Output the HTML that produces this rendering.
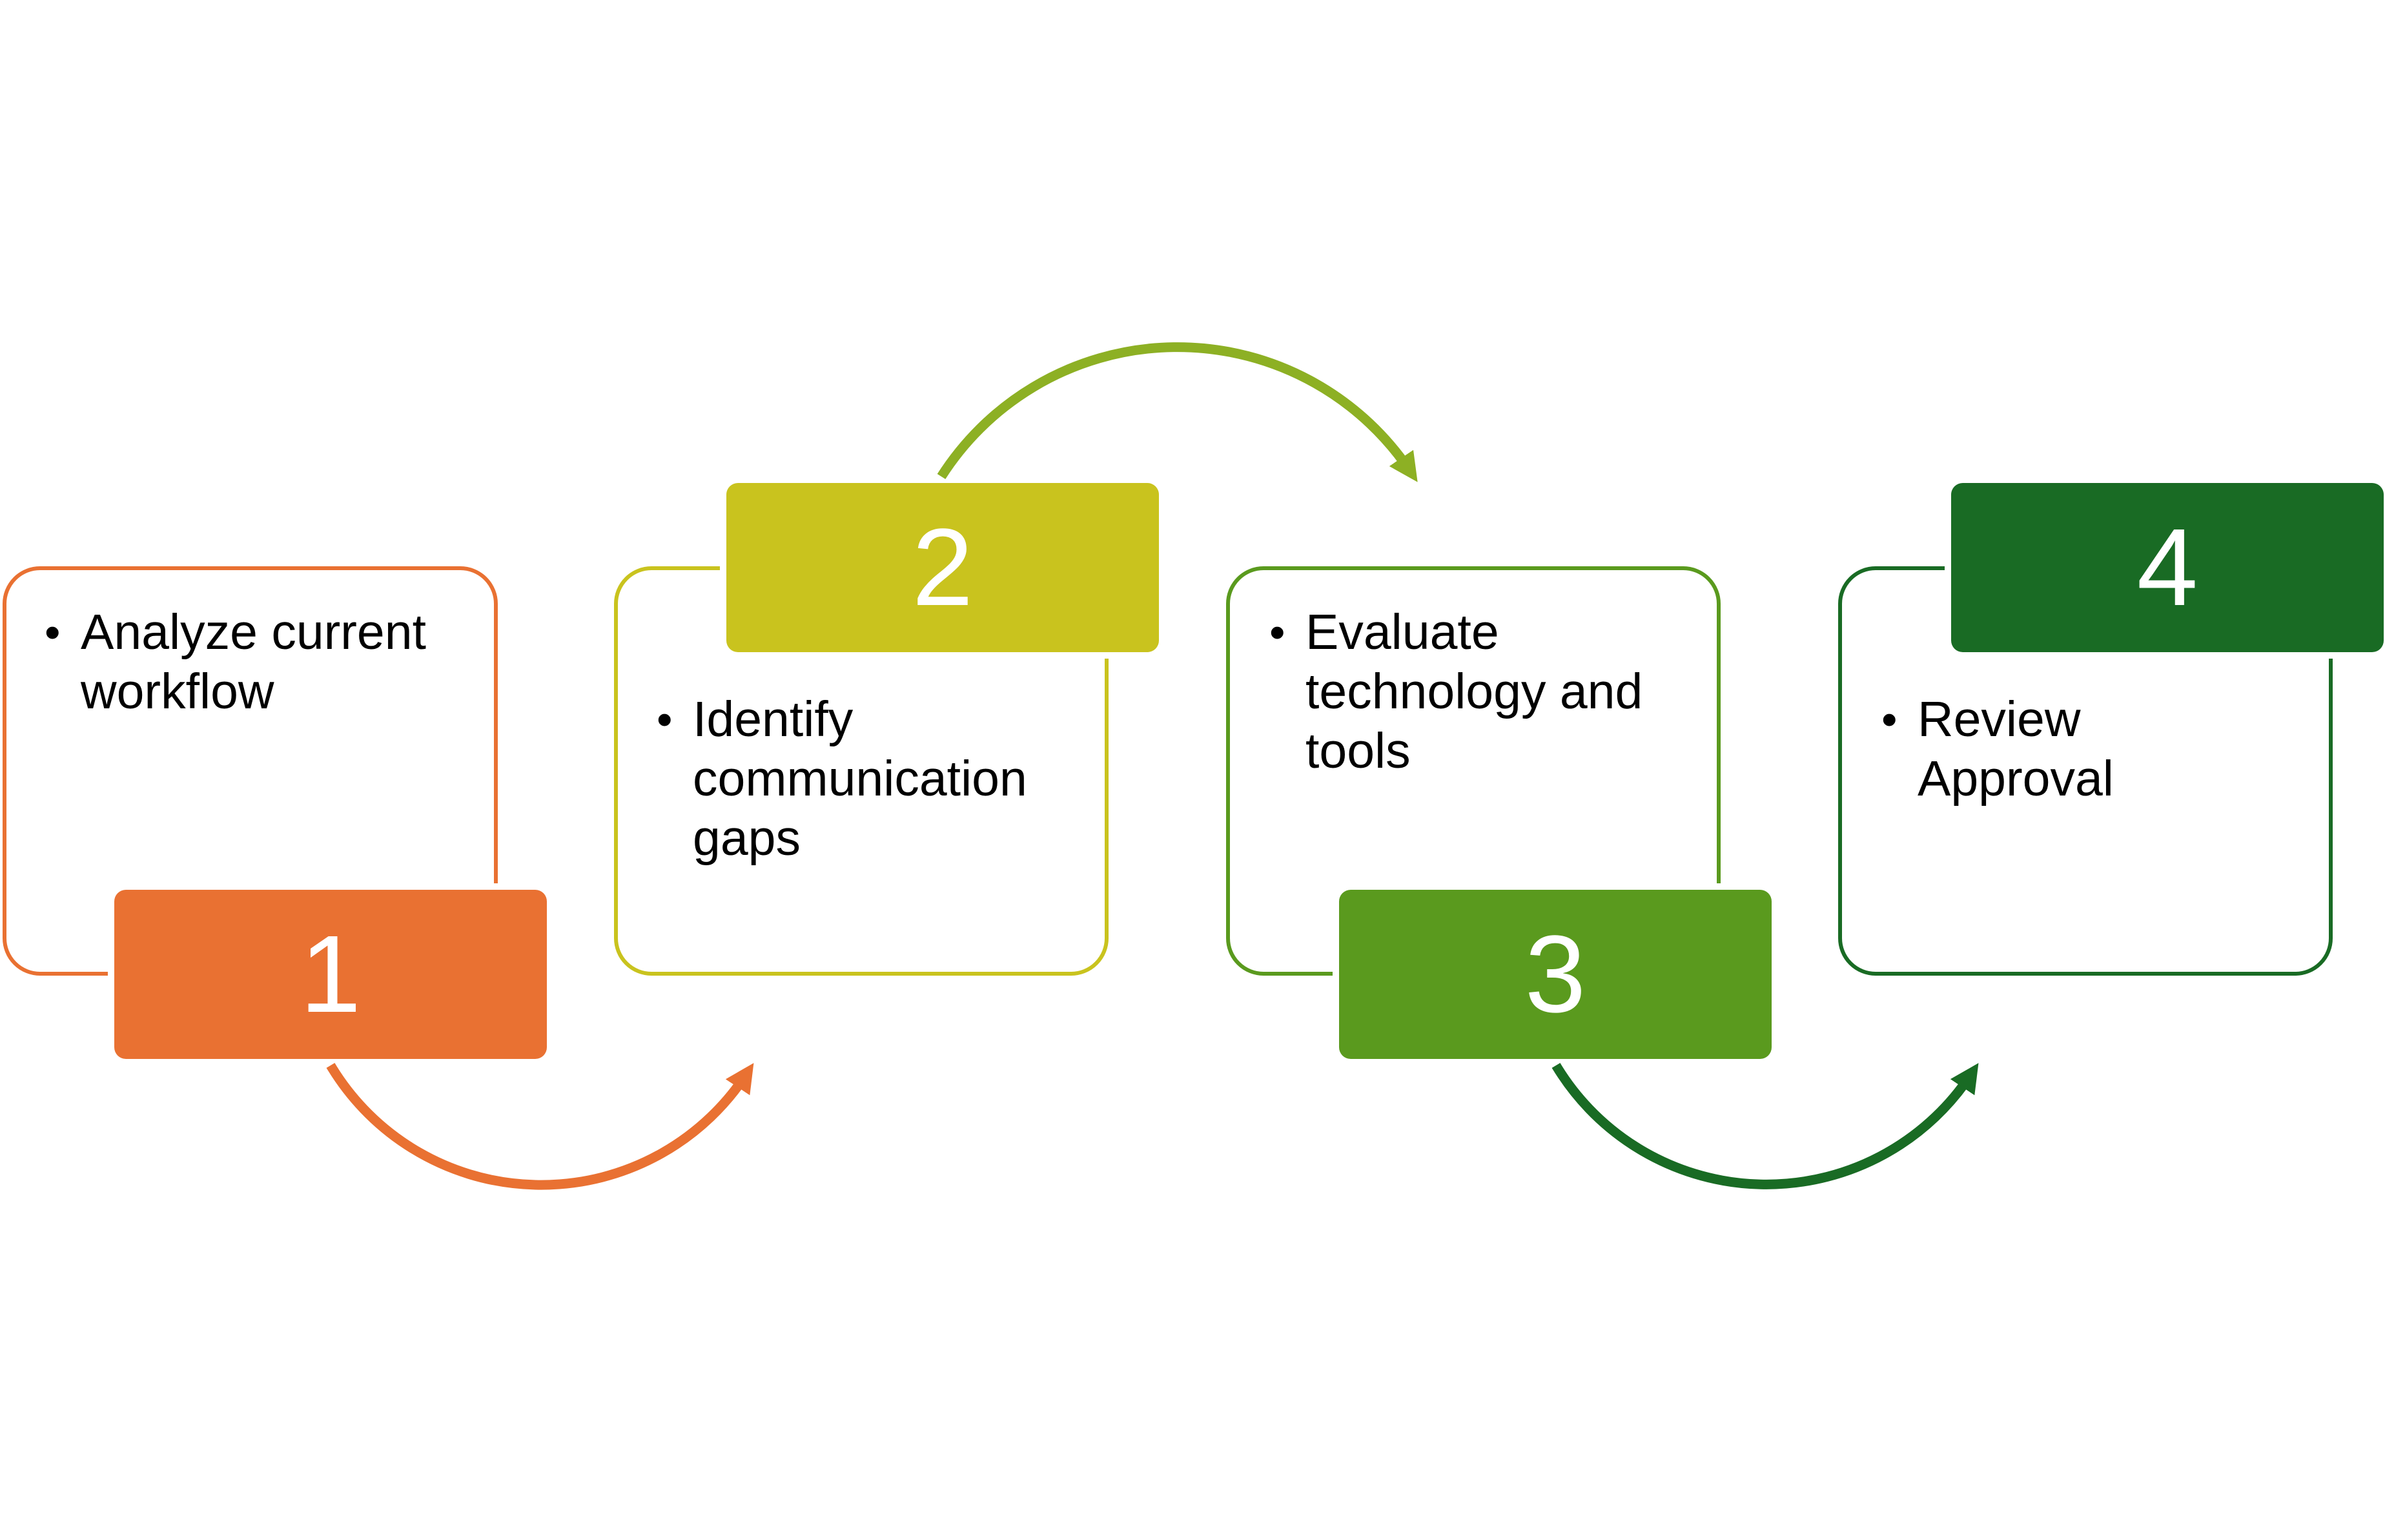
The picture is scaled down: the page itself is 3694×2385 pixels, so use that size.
<!DOCTYPE html>
<html><head><style>
html,body{margin:0;padding:0;background:#fff}
body{width:3694px;height:2385px;position:relative;overflow:hidden;font-family:"Liberation Sans",sans-serif}
.ob{position:absolute;box-sizing:border-box;border:6px solid;border-radius:58px;background:#fff}
.nb{position:absolute;border-radius:18px;box-shadow:0 0 0 10px #fff;color:#fff;font-size:170px;display:flex;align-items:center;justify-content:center;line-height:1}
.tx{position:absolute;font-size:77px;line-height:92px;color:#000;white-space:nowrap}
.tx .b{position:absolute;left:-56px;font-size:70px}
</style></head><body>
<div class="ob" style="left:4px;top:877px;width:767px;height:634px;border-color:#E97132"></div>
<div class="ob" style="left:951px;top:877px;width:766px;height:634px;border-color:#C9C31E"></div>
<div class="ob" style="left:1899px;top:877px;width:766px;height:634px;border-color:#5A9A1E"></div>
<div class="ob" style="left:2847px;top:877px;width:766px;height:634px;border-color:#196B24"></div>

<div class="nb" style="left:177px;top:1378px;width:670px;height:262px;background:#E97132">1</div>
<div class="nb" style="left:1125px;top:748px;width:670px;height:262px;background:#C9C31E">2</div>
<div class="nb" style="left:2074px;top:1378px;width:670px;height:262px;background:#5A9A1E">3</div>
<div class="nb" style="left:3022px;top:748px;width:670px;height:262px;background:#196B24">4</div>

<div class="tx" style="left:125px;top:933px"><span class="b">•</span>Analyze current<br>workflow</div>
<div class="tx" style="left:1073px;top:1068px"><span class="b">•</span>Identify<br>communication<br>gaps</div>
<div class="tx" style="left:2022px;top:933px"><span class="b">•</span>Evaluate<br>technology and<br>tools</div>
<div class="tx" style="left:2970px;top:1068px"><span class="b">•</span>Review<br>Approval</div>

<svg width="3694" height="2385" style="position:absolute;left:0;top:0">
<defs>
<marker id="m1" markerWidth="3" markerHeight="3" refX="1.5" refY="1.5" orient="auto" markerUnits="strokeWidth"><path d="M0,0 L3,1.5 L0,3 z" fill="#E97132"/></marker>
<marker id="m2" markerWidth="3" markerHeight="3" refX="1.5" refY="1.5" orient="auto" markerUnits="strokeWidth"><path d="M0,0 L3,1.5 L0,3 z" fill="#8DB024"/></marker>
<marker id="m3" markerWidth="3" markerHeight="3" refX="1.5" refY="1.5" orient="auto" markerUnits="strokeWidth"><path d="M0,0 L3,1.5 L0,3 z" fill="#196B24"/></marker>
</defs>
<path d="M512,1650 A380,380 0 0 0 1155,1665" fill="none" stroke="#E97132" stroke-width="15" marker-end="url(#m1)"/>
<path d="M1458,738 A434,434 0 0 1 2183,728" fill="none" stroke="#8DB024" stroke-width="15" marker-end="url(#m2)"/>
<path d="M2410,1650 A380,380 0 0 0 3052,1665" fill="none" stroke="#196B24" stroke-width="15" marker-end="url(#m3)"/>
</svg>
</body></html>
